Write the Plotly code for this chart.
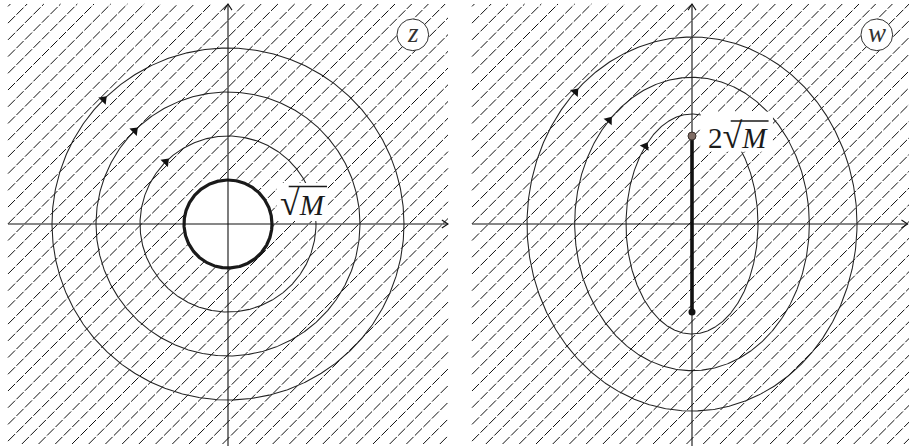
import numpy as np
import plotly.graph_objects as go

# ---- model quantities (lengths measured in units of sqrt(M)) ----
M = 1.0
root_M = np.sqrt(M)
radii = [2.0, 3.0, 4.0]            # level circles |z| = r in the z-plane
arrow_theta_deg = [135, 135, 135]  # where the direction arrows sit on each circle
slit_ends = [2.0, -2.0]            # w = z - M/z maps |z| = sqrt(M) onto the slit [-2i, 2i]
axis_extent = 5.0                  # half-width of the hatched square in each plane

# ---- page geometry ----
W, H = 909, 446
PX = 44.0                 # pixels per unit length
split = 460               # pixel column where the w-panel starts
cz = (228, 224)           # pixel position of the z-plane origin
cw = (692, 224)           # pixel position of the w-plane origin

INK = "#222222"
SERIF = "Liberation Serif"


def wmap(z):
    return z - M / z


def hatch(ext, step=0.38, phase=0.185):
    xs, ys = [], []
    for c in np.arange(-2 * ext - step + phase, 2 * ext + step, step):
        xa, xb = max(-ext, -ext - c), min(ext, ext - c)
        if xb <= xa:
            continue
        xs += [xa, xb, None]
        ys += [xa + c, xb + c, None]
    return xs, ys


def axis_traces(xa, ya, xmax, ymax, bottom):
    tip = 0.14
    half = 0.09
    xs = [-axis_extent, xmax, None, xmax - tip, xmax, xmax - tip, None,
          0, 0, None, -half, 0, half]
    ys = [0, 0, None, half, 0, -half, None,
          bottom, ymax, None, ymax - tip, ymax, ymax - tip]
    return go.Scatter(x=xs, y=ys, mode="lines", xaxis=xa, yaxis=ya,
                      line=dict(color="#111111", width=1.1), hoverinfo="skip")


fig = go.Figure()

theta = np.linspace(0, 2 * np.pi, 721)
hx, hy = hatch(axis_extent)

for xa, ya in (("x", "y"), ("x2", "y2")):
    fig.add_trace(go.Scatter(x=hx, y=hy, mode="lines", xaxis=xa, yaxis=ya,
                             line=dict(color="#111111", width=1.0, dash="10px,2px"),
                             hoverinfo="skip"))

# z-plane: excluded disk |z| < sqrt(M)
disk = root_M * np.exp(1j * theta)
fig.add_trace(go.Scatter(x=disk.real, y=disk.imag, mode="lines", fill="toself",
                         fillcolor="white", line=dict(color="#1a1a1a", width=3.2),
                         xaxis="x", yaxis="y", hoverinfo="skip"))

fig.add_trace(axis_traces("x", "y", axis_extent, axis_extent, -6))
fig.add_trace(axis_traces("x2", "y2", 4.9, axis_extent, -6))

arrow_z = dict(x=[], y=[], a=[])
arrow_w = dict(x=[], y=[], a=[])
for r, th in zip(radii, arrow_theta_deg):
    z = r * np.exp(1j * theta)
    w = wmap(z)
    fig.add_trace(go.Scatter(x=z.real, y=z.imag, mode="lines", xaxis="x", yaxis="y",
                             line=dict(color=INK, width=1.05), hoverinfo="skip"))
    fig.add_trace(go.Scatter(x=w.real, y=w.imag, mode="lines", xaxis="x2", yaxis="y2",
                             line=dict(color=INK, width=1.05), hoverinfo="skip"))
    t = np.radians(th)
    z0 = r * np.exp(1j * t)
    # clockwise travel: tangent along decreasing theta
    dz = -1j * z0
    w0 = wmap(z0)
    dw = dz * (1 + M / z0 ** 2)
    for store, p, d in ((arrow_z, z0, dz), (arrow_w, w0, dw)):
        store["x"].append(p.real)
        store["y"].append(p.imag)
        store["a"].append(np.degrees(np.arctan2(d.real, d.imag)))

for store, xa, ya in ((arrow_z, "x", "y"), (arrow_w, "x2", "y2")):
    fig.add_trace(go.Scatter(x=store["x"], y=store["y"], mode="markers",
                             xaxis=xa, yaxis=ya, hoverinfo="skip",
                             marker=dict(symbol="triangle-up", size=9, color="#111111",
                                         angle=store["a"], line=dict(width=0))))

# w-plane slit and its end points
fig.add_trace(go.Scatter(x=[0, 0], y=slit_ends, mode="lines", xaxis="x2", yaxis="y2",
                         line=dict(color="#111111", width=3.6), hoverinfo="skip"))
fig.add_trace(go.Scatter(x=[0], y=[slit_ends[0]], mode="markers", xaxis="x2", yaxis="y2",
                         marker=dict(size=8, color="#7f6c64", line=dict(color="#3a302c", width=1)),
                         hoverinfo="skip"))
fig.add_trace(go.Scatter(x=[0], y=[slit_ends[1]], mode="markers", xaxis="x2", yaxis="y2",
                         marker=dict(size=7, color="#111111"), hoverinfo="skip"))

shapes = []
annotations = []

# plane badges
for xa, ya, name in (("x", "y", "z"), ("x2", "y2", "w")):
    bx, by, br = 4.2, 4.3, 0.36
    shapes.append(dict(type="circle", xref=xa, yref=ya, x0=bx - br, x1=bx + br,
                       y0=by - br, y1=by + br, fillcolor="white",
                       line=dict(color="#333333", width=1), layer="above"))
    annotations.append(dict(x=bx, y=by + 0.03, xref=xa, yref=ya, text=f"<i>{name}</i>",
                            showarrow=False, font=dict(family=SERIF, size=27, color="#333333")))

# labels with white boxes and radical bars
RAD = "<span style='font-size:36px'>√</span>"
labels = [
    ("x", "y", RAD + "<i>M</i>", (1.11, 2.27, 0.07, 0.93), (1.70, 0.47), (1.38, 2.25, 0.85)),
    ("x2", "y2", "2" + RAD + "<i>M</i>", (0.20, 1.84, 1.64, 2.55), (1.04, 2.00), (0.88, 1.74, 2.34)),
]
for xa, ya, txt, box, pos, bar in labels:
    shapes.append(dict(type="rect", xref=xa, yref=ya, x0=box[0], x1=box[1], y0=box[2],
                       y1=box[3], fillcolor="white", line=dict(width=0), layer="above"))
    shapes.append(dict(type="line", xref=xa, yref=ya, x0=bar[0], x1=bar[1], y0=bar[2],
                       y1=bar[2], line=dict(color="#1a1a1a", width=1.5), layer="above"))
    annotations.append(dict(x=pos[0], y=pos[1], xref=xa, yref=ya, text=txt, showarrow=False,
                            font=dict(family=SERIF, size=29, color="#1a1a1a")))

ax_common = dict(visible=False, showgrid=False, zeroline=False, fixedrange=True)
fig.update_layout(
    width=W, height=H,
    margin=dict(l=0, r=0, t=0, b=0),
    paper_bgcolor="white", plot_bgcolor="white",
    showlegend=False,
    xaxis=dict(domain=[0, split / W], range=[-cz[0] / PX, (split - cz[0]) / PX], **ax_common),
    yaxis=dict(domain=[0, 1], range=[(cz[1] - H) / PX, cz[1] / PX], **ax_common),
    xaxis2=dict(domain=[split / W, 1], range=[(split - cw[0]) / PX, (W - cw[0]) / PX], **ax_common),
    yaxis2=dict(domain=[0, 1], range=[(cw[1] - H) / PX, cw[1] / PX], **ax_common),
    shapes=shapes,
    annotations=annotations,
)

fig.write_html("out.html")
